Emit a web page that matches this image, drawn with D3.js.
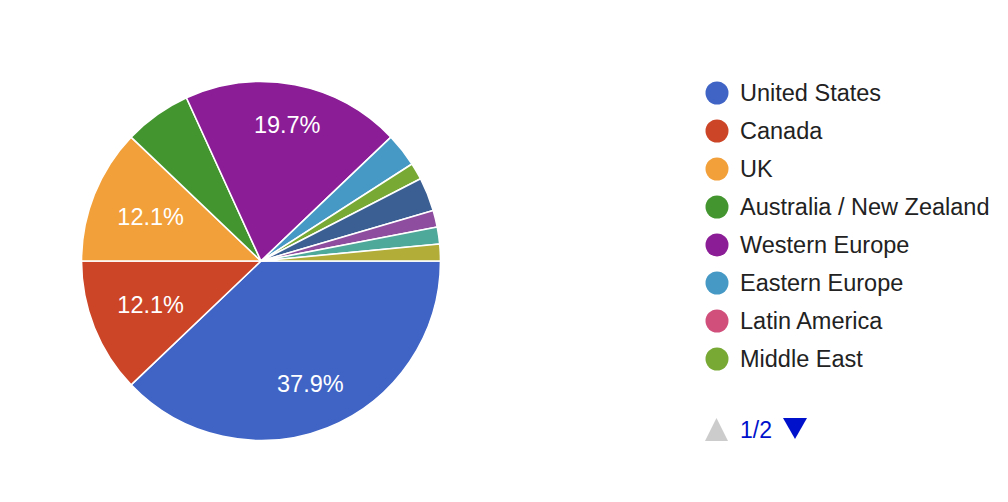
<!DOCTYPE html>
<html>
<head>
<meta charset="utf-8">
<script src="https://cdn.jsdelivr.net/npm/d3@7/dist/d3.min.js"></script>
<style>
  html, body { margin: 0; padding: 0; background: #ffffff; }
  svg { display: block; font-family: "Liberation Sans", Arial, sans-serif; }
</style>
</head>
<body>
<svg id="chart" width="1008" height="502"></svg>
<script>
// ---- data ----
const categories = ["United States", "Canada", "UK", "Australia / New Zealand",
  "Western Europe", "Eastern Europe", "Latin America", "Middle East",
  "Africa", "South Asia", "East Asia", "Other"];
const responses = [25, 8, 8, 4, 13, 2, 0, 1, 2, 1, 1, 1];
const legendPage = "1/2";
const legendPageSize = 8;

// ---- styles ----
const colors = ["#3f64c6", "#cc4527", "#f2a03a", "#43962f", "#8b1d96", "#4699c5",
  "#d0507b", "#78a935", "#3c5f93", "#8e4d9e", "#4fa99a", "#b1ad38"];

const svg = d3.select("#chart");
const cx = 261, cy = 261, r = 179.5;

const data = categories.map((c, i) => ({ name: c, value: responses[i], color: colors[i] }));
const total = d3.sum(responses);

const pie = d3.pie().sort(null).value(d => d.value)
  .startAngle(Math.PI / 2).endAngle(Math.PI / 2 + 2 * Math.PI);
const arcs = pie(data).filter(a => a.data.value > 0);
const arc = d3.arc().innerRadius(0).outerRadius(r);

const g = svg.append("g").attr("transform", `translate(${cx},${cy})`);
g.selectAll("path.slice").data(arcs).join("path")
  .attr("class", "slice")
  .attr("d", arc)
  .attr("fill", d => d.data.color)
  .attr("stroke", "#ffffff")
  .attr("stroke-width", 1.6)
  .attr("stroke-linejoin", "round");

// labels
const fmt = v => (v / total * 100).toFixed(1) + "%";
arcs.filter(a => a.data.value / total > 0.1).forEach(a => {
  const mid = (a.startAngle + a.endAngle) / 2;
  const dx = Math.sin(mid), dy = -Math.cos(mid);
  const t = g.append("text")
    .attr("fill", "#ffffff")
    .attr("font-size", 23.5)
    .attr("text-anchor", "middle")
    .attr("dominant-baseline", "central")
    .text(fmt(a.data.value));
  const bb = t.node().getBBox();
  const hw = bb.width / 2, hh = 8.5;
  const dist = 153 - (hw * Math.abs(dx) + hh * Math.abs(dy));
  t.attr("x", dx * dist).attr("y", dy * dist);
});

// legend
const lg = svg.append("g");
const ly = d3.scaleLinear().domain([0, 1]).range([93, 131]);
const items = data.slice(0, legendPageSize);
items.forEach((d, i) => {
  const y = ly(i);
  lg.append("circle").attr("cx", 717).attr("cy", y).attr("r", 11.5).attr("fill", d.color);
  lg.append("text").attr("x", 740).attr("y", y)
    .attr("dominant-baseline", "central")
    .attr("font-size", 23.5).attr("fill", "#222222")
    .text(d.name);
});

// pager
const py = 430;
lg.append("path").attr("d", `M705,${py + 11} L728,${py + 11} L716.5,${py - 12} Z`).attr("fill", "#cccccc");
lg.append("text").attr("x", 740).attr("y", py)
  .attr("dominant-baseline", "central")
  .attr("font-size", 23).attr("fill", "#0011cc")
  .text(legendPage);
lg.append("path").attr("d", `M783,${py - 12} L807,${py - 12} L795,${py + 9} Z`).attr("fill", "#0011cc");
</script>
</body>
</html>
